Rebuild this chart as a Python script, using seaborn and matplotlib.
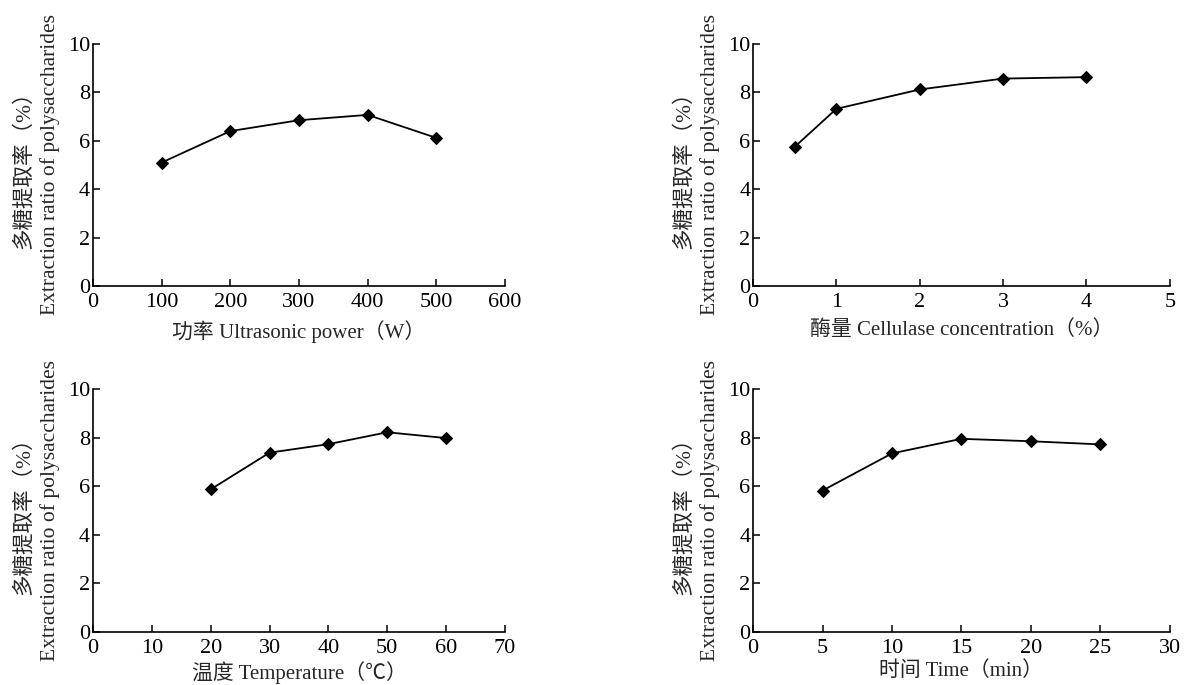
import matplotlib
matplotlib.use('Agg')
import matplotlib.pyplot as plt
import seaborn as sns
import pandas as pd

# single factor experiments: extraction ratio of polysaccharides (%)
power_w = [100, 200, 300, 400, 500]
power_ratio = [5.10, 6.40, 6.85, 7.07, 6.12]

enzyme_pct = [0.5, 1, 2, 3, 4]
enzyme_ratio = [5.75, 7.32, 8.12, 8.57, 8.63]

temp_c = [20, 30, 40, 50, 60]
temp_ratio = [5.87, 7.38, 7.73, 8.22, 7.98]

time_min = [5, 10, 15, 20, 25]
time_ratio = [5.82, 7.35, 7.95, 7.85, 7.72]

y_label = '多糖提取率（%）\nExtraction ratio of polysaccharides'
x_labels = ['功率 Ultrasonic power（W）', '酶量 Cellulase concentration（%）',
            '温度 Temperature（℃）', '时间 Time（min）']
x_limits = [(0, 600), (0, 5), (0, 70), (0, 30)]
x_ticks = [[0, 100, 200, 300, 400, 500, 600], [0, 1, 2, 3, 4, 5],
           [0, 10, 20, 30, 40, 50, 60, 70], [0, 5, 10, 15, 20, 25, 30]]

sns.set_style('ticks')
plt.rcParams['font.family'] = ['Liberation Serif', 'Noto Sans CJK SC', 'DejaVu Sans']
plt.rcParams['xtick.direction'] = 'in'
plt.rcParams['ytick.direction'] = 'in'

fig = plt.figure(figsize=(11.94, 6.85), dpi=100)
rects = [
    [0.0779, 0.5825, 0.345, 0.3533],
    [0.6307, 0.5825, 0.349, 0.3533],
    [0.0779, 0.0774, 0.345, 0.3547],
    [0.6307, 0.0774, 0.349, 0.3547],
]
datasets = [(power_w, power_ratio), (enzyme_pct, enzyme_ratio),
            (temp_c, temp_ratio), (time_min, time_ratio)]

for i, (xs, ys) in enumerate(datasets):
    ax = fig.add_axes(rects[i])
    df = pd.DataFrame({'x': xs, 'y': ys})
    sns.lineplot(data=df, x='x', y='y', ax=ax, color='black', linewidth=1.3,
                 marker='D', markersize=6.5, markeredgecolor='black')
    ax.set_xlim(*x_limits[i])
    ax.set_ylim(0, 10)
    ax.set_xticks(x_ticks[i])
    ax.set_yticks([0, 2, 4, 6, 8, 10])
    sns.despine(ax=ax)
    for s in ['left', 'bottom']:
        ax.spines[s].set_linewidth(1.2)
        ax.spines[s].set_color('black')
    ax.tick_params(axis='both', labelsize=16, length=5, width=1.1, colors='black')
    ax.tick_params(axis='x', pad=5)
    ax.tick_params(axis='y', pad=2)
    # top row has room below, bottom row sits on the figure edge
    ax.set_xlabel(x_labels[i], fontsize=15, labelpad=6 if i < 2 else 2)
    ax.set_ylabel(y_label, fontsize=15.5, labelpad=6, linespacing=1.35)

fig.savefig('out.png', dpi=100)
